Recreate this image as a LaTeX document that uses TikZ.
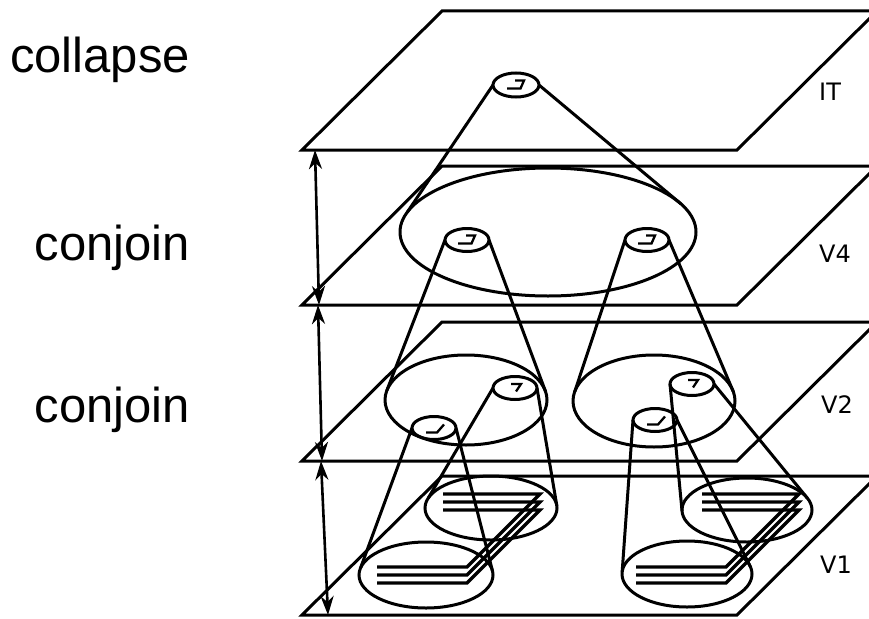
\documentclass[tikz,border=0pt]{standalone}
\usepackage{fontspec}
\setmainfont{Liberation Sans}
\newfontfamily\dejavu{DejaVu Sans}
\usetikzlibrary{shapes.geometric,arrows.meta}
\begin{document}
\begin{tikzpicture}[x=1pt,y=-1pt,
  edge/.style={line width=3pt, line join=miter},
  ring/.style={ellipse, draw, line width=3pt, inner sep=0pt, outer sep=0pt},
  small/.style={ring, minimum width=44pt, minimum height=23pt},
  cone/.style={line width=3pt},
  glyph/.style={line width=2.3pt, line join=miter},
  stack/.style={line width=3.3pt, line join=miter},
  dimarrow/.style={line width=2.6pt, {Stealth[length=19pt,width=13pt,inset=6pt]}-{Stealth[length=19pt,width=13pt,inset=6pt]}},
  lab/.style={font=\fontsize{49}{58}\selectfont, anchor=base east, inner sep=0pt},
  plab/.style={font=\dejavu\fontsize{24}{28}\selectfont, anchor=base west, inner sep=0pt}]
\useasboundingbox (0,0) rectangle (869,618);
\clip (0,0) rectangle (869,618);

% planes
\foreach \yb in {150,305,461,615} {
  \draw[edge] (302,\yb) -- (737,\yb) -- (877,\yb-139) -- (442,\yb-139) -- cycle;
}

% ellipses
\node[ring, minimum width=46pt, minimum height=24pt] (it) at (516,85) {};
\node[ring, minimum width=296pt, minimum height=128pt] (v4big) at (548,232) {};
\node[small] (v4a) at (467,240) {};
\node[small] (v4b) at (647,240) {};
\node[ring, minimum width=162pt, minimum height=90pt] (v2l) at (466,400) {};
\node[ring, minimum width=162pt, minimum height=92pt] (v2r) at (654,401) {};
\node[small] (v2la) at (515,388) {};
\node[small] (v2lb) at (434,428) {};
\node[small] (v2ra) at (692,384) {};
\node[small] (v2rb) at (655,420) {};
\node[ring, minimum width=132pt, minimum height=64pt] (v1la) at (491,508) {};
\node[ring, minimum width=134pt, minimum height=66pt] (v1lb) at (426,575) {};
\node[ring, minimum width=130pt, minimum height=64pt] (v1ra) at (747,510) {};
\node[ring, minimum width=130pt, minimum height=66pt] (v1rb) at (687,574) {};

% cones
\draw[cone] (it.west) -- (v4big.172.6) (it.east) -- (v4big.12.9);
\draw[cone] (v4a.west) -- (v2l.173.2) (v4a.east) -- (v2l.6.6);
\draw[cone] (v4b.west) -- (v2r.173.9) (v4b.east) -- (v2r.7.8);
\draw[cone] (v2la.west) -- (v1la.171.6) (v2la.east) -- (v1la.2.4);
\draw[cone] (v2lb.west) -- (v1lb.174.9) (v2lb.east) -- (v1lb.3.5);
\draw[cone] (v2ra.west) -- (v1ra.181.3) (v2ra.east) -- (v1ra.11.3);
\draw[cone] (v2rb.west) -- (v1rb.178.9) (v2rb.east) -- (v1rb.7.3);

% glyphs
\foreach \n in {it,v4a,v4b} {
  \draw[glyph, shift={(\n.center)}] (-1,-4.5) -- (8,-4.5) -- (4.5,3.5) -- (-9,3.5);
}
\foreach \n in {v2la,v2ra} {
  \draw[glyph, shift={(\n.center)}] (-4,-4) -- (6,-4) -- (1,3.5);
}
\foreach \n in {v2lb,v2rb} {
  \draw[glyph, shift={(\n.center)}] (-8,4.5) -- (3,4.5) -- (10,-3.5);
}

% stacks
\foreach \dx in {0,259} {
  \foreach \dy in {0,8,16} {
    \draw[stack] (443+\dx,494+\dy) -- (540+\dx,494+\dy) -- (467+\dx,567+\dy) -- (377+\dx,567+\dy);
  }
}

% dimension arrows
\coordinate (a1t) at (315,150); \coordinate (a1b) at (319,305);
\coordinate (a2t) at (318,305); \coordinate (a2b) at (322,461);
\coordinate (a3t) at (321,461); \coordinate (a3b) at (328,615);
\draw[dimarrow] (a1t) -- (a1b);
\draw[dimarrow] (a2t) -- (a2b);
\draw[dimarrow] (a3t) -- (a3b);

% labels
\node[lab] (tc) at (190,72) {collapse};
\node[lab] (tj1) at (190,260) {conjoin};
\node[lab] (tj2) at (190,422) {conjoin};
\node[plab] (lit) at (819,100) {IT};
\node[plab] (lv4) at (819,262) {V4};
\node[plab] (lv2) at (821,413) {V2};
\node[plab] (lv1) at (820,573) {V1};
\end{tikzpicture}
\end{document}
